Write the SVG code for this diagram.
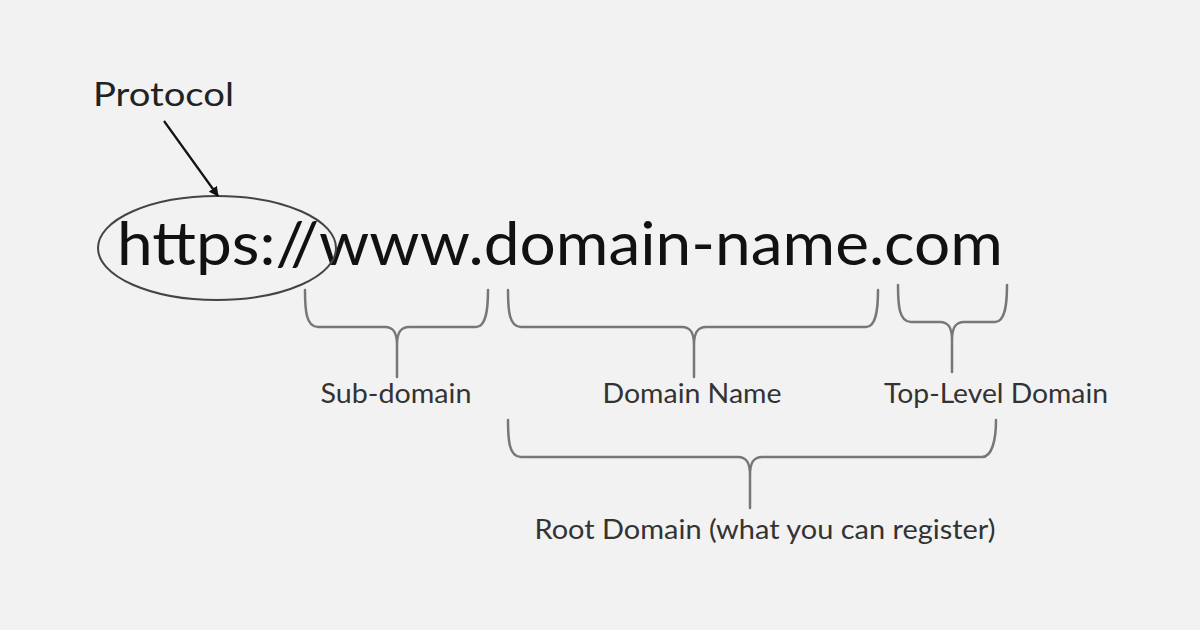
<svg xmlns="http://www.w3.org/2000/svg" width="1200" height="630" viewBox="0 0 1200 630">
<defs>
<style>
.lbl{font-family:Lato,"Open Sans","Liberation Sans",sans-serif;fill:#333;font-size:26px;text-anchor:middle}
.brace{fill:none;stroke:#777;stroke-width:2.5;stroke-linecap:round;stroke-linejoin:round}
</style>
<marker id="ah" viewBox="0 0 10 10" refX="9" refY="5" markerWidth="10" markerHeight="10" markerUnits="userSpaceOnUse" orient="auto">
<path d="M0,0 L10,5 L0,10 z" fill="#111"/>
</marker>
</defs>
<rect width="1200" height="630" fill="#f2f2f2"/>
<g id="url">
<text x="117" y="265" font-family="Lato,'Open Sans','Liberation Sans',sans-serif" font-size="60" fill="#111" textLength="886" lengthAdjust="spacingAndGlyphs">https://www.domain-name.com</text>
</g>
<g id="protocol">
<text x="93" y="106" font-family="Lato,'Open Sans','Liberation Sans',sans-serif" font-size="33" fill="#222" textLength="141" lengthAdjust="spacingAndGlyphs">Protocol</text>
<ellipse cx="217" cy="248" rx="119" ry="52" fill="none" stroke="#444" stroke-width="2"/>
</g>
<g id="connectors">
<line x1="164" y1="121" x2="218" y2="196" stroke="#111" stroke-width="2.2" marker-end="url(#ah)"/>
<path class="brace" d="M305,290 C305,310 306,327 318,327 L385,327 C393,327 397,332 397,345 L397,377 M397,345 C397,332 401,327 409,327 L476,327 C486,327 488,310 488,290"/>
<path class="brace" d="M508,290 C508,310 509,327 521,327 L682,327 C690,327 694,332 694,345 L694,377 M694,345 C694,332 698,327 706,327 L866,327 C876,327 878,310 878,290"/>
<path class="brace" d="M898,285 C898,305 899,322 911,322 L940,322 C948,322 952,327 952,340 L952,372 M952,340 C952,327 956,322 964,322 L995,322 C1005,322 1007,305 1007,285"/>
<path class="brace" d="M508,420 C508,440 509,457 521,457 L738,457 C746,457 750,462 750,475 L750,508 M750,475 C750,462 754,457 762,457 L982,457 C992,457 996,440 996,420"/>
</g>
<g id="sub-domain"><text class="lbl" x="396" y="403" textLength="151" lengthAdjust="spacingAndGlyphs">Sub-domain</text></g>
<g id="domain-name"><text class="lbl" x="692" y="403" textLength="179" lengthAdjust="spacingAndGlyphs">Domain Name</text></g>
<g id="tld"><text class="lbl" x="996" y="403" textLength="224" lengthAdjust="spacingAndGlyphs">Top-Level Domain</text></g>
<g id="root-domain"><text class="lbl" x="765" y="539" textLength="461" lengthAdjust="spacingAndGlyphs">Root Domain (what you can register)</text></g>
</svg>
